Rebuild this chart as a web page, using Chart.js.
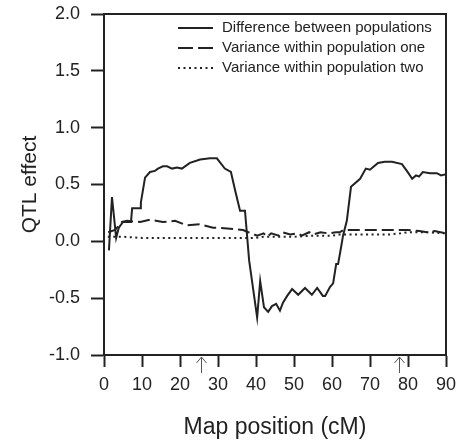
<!DOCTYPE html>
<html>
<head>
<meta charset="utf-8">
<script src="https://cdn.jsdelivr.net/npm/chart.js@4/dist/chart.umd.min.js"></script>
<style>
  html, body { margin: 0; padding: 0; background: #fff; }
  #wrap { width: 457px; height: 445px; }
</style>
</head>
<body>
<div id="wrap"><canvas id="qtlChart" width="457" height="445"></canvas></div>
<script>
// map positions (cM) and effects
const diffPos = [1.3, 2.1, 3.2, 3.9, 5.0, 7.1, 7.4, 9.5, 9.7, 10.8, 12.1, 13.4, 14.2, 15.5, 16.6, 17.9, 19.2, 20.5, 22.6, 25.3, 27.9, 29.7, 31.8, 33.4, 34.5, 35.8, 37.1, 38.2, 40.3, 41.1, 42.1, 43.2, 44.2, 45.3, 46.3, 47.1, 48.2, 49.5, 51.1, 52.9, 54.7, 56.1, 57.6, 58.2, 59.5, 60.3, 61.1, 61.6, 62.4, 62.9, 63.9, 65.0, 67.4, 68.9, 70.0, 72.1, 73.9, 75.8, 78.4, 79.7, 81.1, 82.1, 82.9, 83.9, 85.8, 87.6, 88.7, 90];
const diffVal = [-0.08, 0.39, 0.03, 0.12, 0.17, 0.17, 0.29, 0.29, 0.34, 0.56, 0.61, 0.62, 0.64, 0.66, 0.66, 0.64, 0.65, 0.64, 0.69, 0.72, 0.73, 0.73, 0.64, 0.61, 0.45, 0.27, 0.27, -0.17, -0.67, -0.35, -0.58, -0.62, -0.57, -0.55, -0.61, -0.54, -0.48, -0.42, -0.47, -0.41, -0.47, -0.41, -0.48, -0.48, -0.40, -0.37, -0.20, -0.20, -0.05, 0.05, 0.18, 0.48, 0.55, 0.64, 0.63, 0.69, 0.70, 0.70, 0.68, 0.62, 0.55, 0.58, 0.57, 0.61, 0.60, 0.60, 0.58, 0.59];

const var1Pos = [1.1, 2.9, 4.7, 6.1, 9.5, 12.1, 15.5, 18.7, 21.8, 25.3, 28.7, 30, 33.2, 36.6, 38, 40.3, 42, 43, 44, 46, 47, 49, 51, 52, 54, 55, 57, 59, 61, 62, 63, 65, 70, 75, 80, 83, 85, 87, 90];
const var1Val = [0.08, 0.10, 0.17, 0.18, 0.17, 0.19, 0.17, 0.18, 0.14, 0.15, 0.12, 0.12, 0.11, 0.10, 0.08, 0.05, 0.07, 0.04, 0.07, 0.05, 0.08, 0.06, 0.07, 0.05, 0.08, 0.06, 0.08, 0.07, 0.08, 0.08, 0.10, 0.10, 0.10, 0.10, 0.10, 0.09, 0.08, 0.09, 0.07];

const var2Pos = [1, 5, 10, 20, 30, 38, 40, 42, 45, 50, 55, 60, 62, 65, 70, 75, 78, 80, 85, 90];
const var2Val = [0.04, 0.04, 0.03, 0.03, 0.03, 0.03, 0.03, 0.04, 0.04, 0.04, 0.05, 0.05, 0.06, 0.06, 0.06, 0.06, 0.07, 0.08, 0.08, 0.07];

const seriesLabels = ['Difference between populations', 'Variance within population one', 'Variance within population two'];
const arrowPos = [25.5, 77.7];
const xTicks = [0, 10, 20, 30, 40, 50, 60, 70, 80, 90];
const yTicks = [-1.0, -0.5, 0.0, 0.5, 1.0, 1.5, 2.0];

const ink = '#222';
const font = 'Liberation Sans, Arial, Helvetica, sans-serif';

const toPoints = (xs, ys) => xs.map((x, i) => ({ x, y: ys[i] }));

// plot frame (top + right edges)
const framePlugin = {
  id: 'frame',
  afterDraw(chart) {
    const { ctx, chartArea: a } = chart;
    ctx.save();
    ctx.strokeStyle = ink;
    ctx.lineWidth = 2;
    ctx.beginPath();
    ctx.moveTo(a.left, a.top);
    ctx.lineTo(a.right, a.top);
    ctx.lineTo(a.right, a.bottom);
    ctx.stroke();
    ctx.restore();
  }
};

// small arrows under the x axis
const arrowPlugin = {
  id: 'arrows',
  afterDraw(chart) {
    const { ctx, chartArea: a } = chart;
    const xs = chart.scales.x;
    ctx.save();
    ctx.strokeStyle = '#555';
    ctx.lineWidth = 1;
    arrowPos.forEach((p) => {
      const x = Math.round(xs.getPixelForValue(p)) + 0.5;
      const top = a.bottom + 2;
      ctx.beginPath();
      ctx.moveTo(x, a.bottom + 18);
      ctx.lineTo(x, top);
      ctx.moveTo(x - 5, top + 6);
      ctx.lineTo(x, top);
      ctx.lineTo(x + 5, top + 6);
      ctx.stroke();
    });
    ctx.restore();
  }
};

// legend inside the plot, lines drawn with each dataset's dash
const legendPlugin = {
  id: 'inLegend',
  afterDraw(chart) {
    const { ctx } = chart;
    const rows = [28, 48, 68];
    ctx.save();
    ctx.font = `15px ${font}`;
    ctx.fillStyle = ink;
    ctx.textBaseline = 'middle';
    chart.data.datasets.forEach((ds, i) => {
      const y = rows[i];
      ctx.strokeStyle = ink;
      ctx.lineWidth = ds.borderWidth;
      ctx.setLineDash(ds.legendDash || []);
      ctx.beginPath();
      ctx.moveTo(178, y);
      ctx.lineTo(213, y);
      ctx.stroke();
      ctx.fillText(ds.label, 222, y);
    });
    ctx.restore();
  }
};

new Chart(document.getElementById('qtlChart'), {
  type: 'line',
  data: {
    datasets: [
      { label: seriesLabels[0], data: toPoints(diffPos, diffVal), borderColor: ink, borderWidth: 2, pointRadius: 0, tension: 0 },
      { label: seriesLabels[1], data: toPoints(var1Pos, var1Val), borderColor: ink, borderWidth: 2, borderDash: [12, 5], legendDash: [15, 5], pointRadius: 0, tension: 0 },
      { label: seriesLabels[2], data: toPoints(var2Pos, var2Val), borderColor: ink, borderWidth: 2, borderDash: [2, 3.5], legendDash: [2, 3.5], pointRadius: 0, tension: 0 }
    ]
  },
  options: {
    responsive: false,
    animation: false,
    layout: { padding: { top: 14, right: 11, left: 0, bottom: 0 } },
    plugins: { legend: { display: false }, tooltip: { enabled: false } },
    scales: {
      x: {
        type: 'linear',
        min: 0,
        max: 90,
        afterBuildTicks: (s) => { s.ticks = xTicks.map((v) => ({ value: v })); },
        afterFit: (s) => { s.height = 90; s.paddingLeft = 0; s.paddingRight = 0; },
        border: { color: ink, width: 2 },
        grid: { drawOnChartArea: false, drawTicks: true, tickLength: 12, tickColor: ink, tickWidth: 2 },
        ticks: { color: ink, font: { family: font, size: 18 }, padding: 7, maxRotation: 0 },
        title: { display: true, text: 'Map position (cM)', color: ink, font: { family: font, size: 23 }, padding: { top: 0, bottom: 4 } }
      },
      y: {
        min: -1,
        max: 2,
        afterBuildTicks: (s) => { s.ticks = yTicks.map((v) => ({ value: v })); },
        afterFit: (s) => { s.width = 104; s.paddingTop = 0; s.paddingBottom = 0; },
        border: { color: ink, width: 2 },
        grid: { drawOnChartArea: false, drawTicks: true, tickLength: 13, tickColor: ink, tickWidth: 2 },
        ticks: { color: ink, font: { family: font, size: 18 }, padding: 11, callback: (v) => v.toFixed(1) },
        title: { display: true, text: 'QTL effect', color: ink, font: { family: font, size: 21 }, padding: { top: 18, bottom: 0 } }
      }
    }
  },
  plugins: [framePlugin, arrowPlugin, legendPlugin]
});
</script>
</body>
</html>
